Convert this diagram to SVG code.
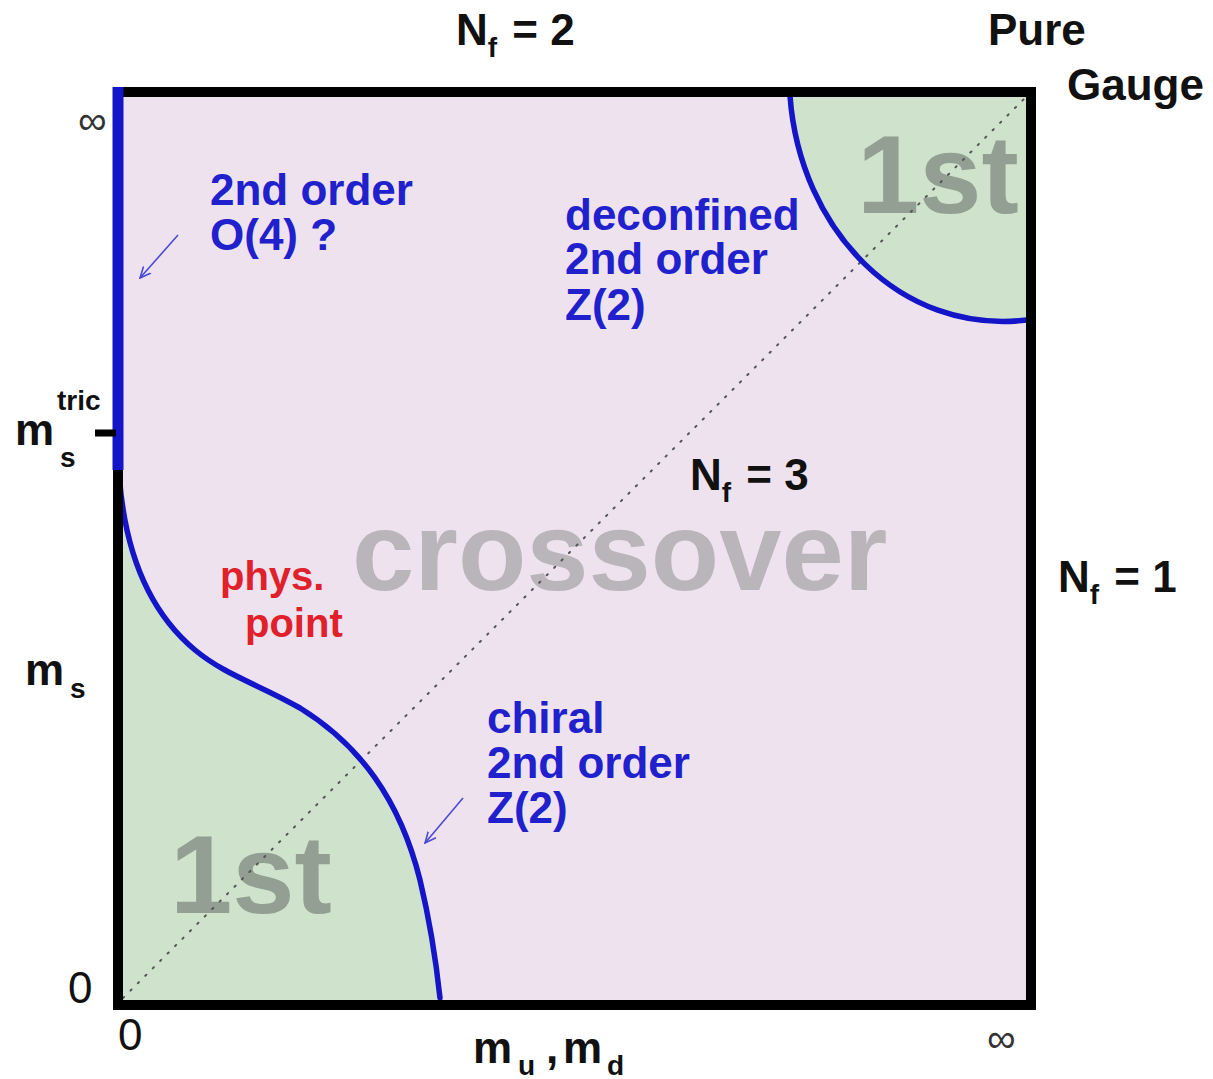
<svg xmlns="http://www.w3.org/2000/svg" width="1213" height="1079" viewBox="0 0 1213 1079">
<style>
text{font-family:"Liberation Sans",Arial,sans-serif;font-weight:bold}
.lbl{fill:#111;font-size:44px}
.sub{font-size:28px}
.blue{fill:#2020cc;font-size:44px}
.red{fill:#e0202a;font-size:40px}
.big{font-size:112px}
.num{font-weight:normal;fill:#111;font-size:44px}
.inf{font-weight:normal;fill:#333;font-size:40px}
.curve{fill:none;stroke:#1414c8;stroke-width:5.5;stroke-linecap:round}
.arrow{fill:none;stroke:#4a4ad4;stroke-width:1.6;marker-end:url(#ah)}
</style>
<defs>
<marker id="ah" viewBox="0 0 12 12" refX="11" refY="6" markerWidth="12" markerHeight="12" markerUnits="userSpaceOnUse" orient="auto">
<path d="M0,1 L11,6 L0,11" fill="none" stroke="#4a4ad4" stroke-width="1.6"/>
</marker>
</defs>
<rect width="1213" height="1079" fill="#ffffff"/>
<g id="plot-area">
<rect x="118" y="92" width="913" height="913" fill="#eee2ee"/>
<path id="green-bl" d="M118,440 C118,520 135,600 195,650 C225,675 260,685 300,708 C360,745 400,800 420,880 C432,930 437,970 440,1005 L118,1005 Z" fill="#cfe3cc"/>
<path id="green-tr" d="M790,92 C800,230 900,335 1031,320 L1031,92 Z" fill="#cfe3cc"/>
<text x="857" y="213" class="big" fill="#939f93">1st</text>
<text x="170" y="913" class="big" fill="#939f93">1st</text>
<text x="352" y="590" class="big" fill="#bab5ba">crossover</text>
</g>
<g id="connectors">
<line id="diagonal" x1="123" y1="998" x2="1027" y2="96" stroke="#555" stroke-width="2" stroke-dasharray="1.5 9" stroke-linecap="round"/>
<path id="chiral-line" class="curve" d="M118,440 C118,520 135,600 195,650 C225,675 260,685 300,708 C360,745 400,800 420,880 C432,930 437,970 440,998"/>
<path id="deconf-line" class="curve" d="M790,96 C800,230 900,335 1027,320"/>
<line class="arrow" x1="178" y1="235" x2="140" y2="278"/>
<line class="arrow" x1="463" y1="798" x2="425" y2="843"/>
</g>
<g id="frame">
<rect x="118" y="92" width="913" height="913" fill="none" stroke="#000" stroke-width="10"/>
<line x1="118" y1="87" x2="118" y2="470" stroke="#1414c8" stroke-width="11"/>
<line x1="95" y1="433" x2="116" y2="433" stroke="#000" stroke-width="7"/>
</g>
<g id="labels">
<text class="lbl" x="456" y="45">N<tspan class="sub" dy="12">f</tspan><tspan dx="3" dy="-12"> = 2</tspan></text>
<text class="lbl" x="988" y="45">Pure</text>
<text class="lbl" x="1067" y="100">Gauge</text>
<text class="lbl" x="690" y="490">N<tspan class="sub" dy="12">f</tspan><tspan dx="3" dy="-12"> = 3</tspan></text>
<text class="lbl" x="1058" y="592">N<tspan class="sub" dy="12">f</tspan><tspan dx="3" dy="-12"> = 1</tspan></text>
<text class="lbl" x="15" y="445">m</text>
<text class="lbl sub" x="60" y="467">s</text>
<text class="lbl sub" x="57" y="410">tric</text>
<text class="lbl" x="25" y="685">m</text>
<text class="lbl sub" x="70" y="698">s</text>
<text class="lbl" x="473" y="1063">m<tspan class="sub" x="518" y="1075">u</tspan><tspan x="546" y="1063">,</tspan><tspan x="563" y="1063">m</tspan><tspan class="sub" x="607" y="1075">d</tspan></text>
<text class="num" x="68" y="1003">0</text>
<text class="num" x="118" y="1050">0</text>
<text class="inf" x="78" y="134">∞</text>
<text class="inf" x="987" y="1052">∞</text>
<text class="blue" x="210" y="205">2nd order</text>
<text class="blue" x="210" y="250">O(4) ?</text>
<text class="blue" x="565" y="230">deconfined</text>
<text class="blue" x="565" y="274">2nd order</text>
<text class="blue" x="565" y="320">Z(2)</text>
<text class="blue" x="487" y="733">chiral</text>
<text class="blue" x="487" y="778">2nd order</text>
<text class="blue" x="487" y="823">Z(2)</text>
<text class="red" x="220" y="590">phys.</text>
<text class="red" x="245" y="637">point</text>
</g>
</svg>
